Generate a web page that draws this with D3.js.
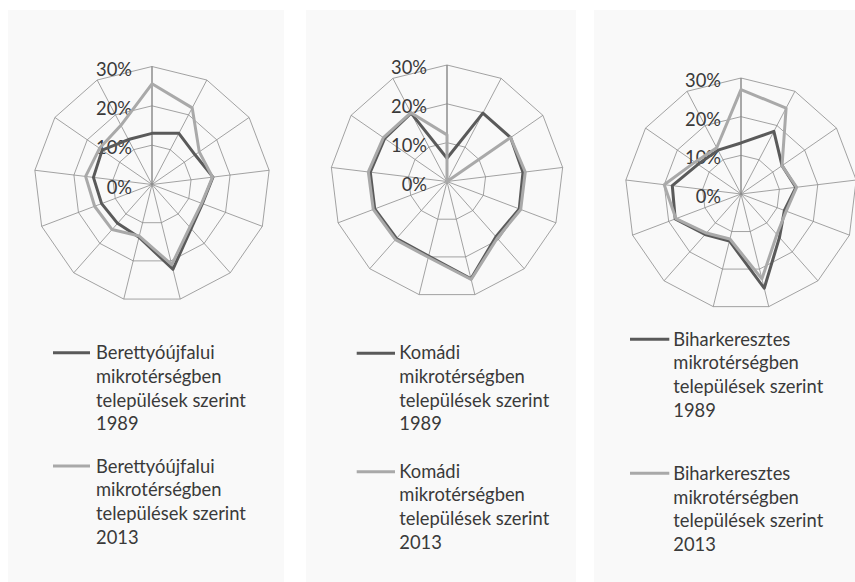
<!DOCTYPE html>
<html>
<head>
<meta charset="utf-8">
<script src="https://cdn.jsdelivr.net/npm/d3@7"></script>
<style>
  html, body { margin: 0; padding: 0; background: #ffffff; }
  svg { display: block; }
</style>
</head>
<body>
<svg id="chart" width="855" height="582"></svg>
<script>
// ---- data ----
const categories = ["1","2","3","4","5","6","7","8","9","10","11","12","13"];
const tickValues = [0, 10, 20, 30];
const tickLabels = ["0%", "10%", "20%", "30%"];

const berettyo1989 = [13.0, 14.7, 13.3, 15.6, 13.7, 15.0, 22.2, 13.8, 13.2, 13.7, 15.0, 15.4, 12.9];
const berettyo2013 = [25.6, 22.0, 14.6, 15.5, 13.5, 14.5, 21.0, 13.5, 15.3, 15.6, 17.0, 16.2, 17.0];

const komadi1989 = [6.0, 19.9, 19.9, 19.7, 19.9, 19.0, 25.8, 19.8, 19.6, 19.9, 19.9, 19.5, 19.9];
const komadi2013 = [12.0, 0.0, 19.9, 20.3, 20.3, 19.5, 26.0, 20.1, 20.0, 20.3, 20.4, 19.9, 20.0];

const bihar1989 = [13.2, 18.3, 12.9, 14.3, 12.0, 15.0, 25.1, 12.5, 14.0, 18.2, 17.9, 13.5, 12.8];
const bihar2013 = [27.0, 25.1, 12.9, 14.5, 12.5, 14.0, 22.6, 12.0, 13.5, 18.0, 20.0, 14.5, 13.5];

const legend1 = [["Berettyóújfalui", "mikrotérségben", "települések szerint", "1989"],
                 ["Berettyóújfalui", "mikrotérségben", "települések szerint", "2013"]];
const legend2 = [["Komádi", "mikrotérségben", "települések szerint", "1989"],
                 ["Komádi", "mikrotérségben", "települések szerint", "2013"]];
const legend3 = [["Biharkeresztes", "mikrotérségben", "települések szerint", "1989"],
                 ["Biharkeresztes", "mikrotérségben", "települések szerint", "2013"]];

// ---- styling / layout ----
const FONT = "Lato, 'Open Sans', sans-serif";
const DARK = "#5a5a5a", LIGHT = "#a9a9a9", GRID = "#8c8c8c", TEXT = "#3a3a3a";

const svg = d3.select("#chart");

function fitSize(txt, target) {
  const t = svg.append("text").attr("font-family", FONT).attr("font-size", 100).text(txt);
  const w = t.node().getComputedTextLength();
  t.remove();
  return 100 * target / w;
}
const legendSize = fitSize("települések szerint", 150);
const tickSize = legendSize;

const panels = [
  { x: 8, w: 276, cx: 152, cy: 184.5, R: 118, s: [berettyo1989, berettyo2013], legend: legend1,
    lx0: 53, lx1: 90, tx: 96, lineY: [352.7, 466], base: [359.3, 472.7] },
  { x: 306, w: 270, cx: 447, cy: 181.5, R: 116.5, s: [komadi1989, komadi2013], legend: legend2,
    lx0: 356.7, lx1: 395, tx: 399.3, lineY: [353.3, 471.7], base: [359.3, 477.7] },
  { x: 594, w: 261, cx: 741, cy: 194, R: 116, s: [bihar1989, bihar2013], legend: legend3,
    lx0: 630, lx1: 669.3, tx: 673.3, lineY: [339.3, 473.3], base: [345.7, 480] }
];

const angle = d3.scalePoint().domain(categories.concat(["_end"])).range([0, 2 * Math.PI]);

panels.forEach(p => {
  svg.append("rect").attr("x", p.x).attr("y", 10).attr("width", p.w).attr("height", 572)
    .attr("fill", "#f9f9f9");

  const r = d3.scaleLinear().domain([0, 30]).range([0, p.R]);
  const g = svg.append("g").attr("transform", `translate(${p.cx},${p.cy})`);

  // rings
  const ringLine = d3.lineRadial().angle(d => angle(d.c)).radius(d => r(d.v)).curve(d3.curveLinearClosed);
  tickValues.filter(v => v > 0).forEach(v => {
    g.append("path").attr("d", ringLine(categories.map(c => ({ c, v }))))
      .attr("fill", "none").attr("stroke", GRID).attr("stroke-width", 0.8);
  });
  // spokes
  categories.forEach((c, i) => {
    const a = angle(c);
    g.append("line").attr("x1", 0).attr("y1", 0)
      .attr("x2", Math.sin(a) * r(30)).attr("y2", -Math.cos(a) * r(30))
      .attr("stroke", i === 0 ? "#868686" : GRID).attr("stroke-width", i === 0 ? 1.4 : 0.8);
  });
  // tick labels
  tickValues.forEach((v, i) => {
    g.append("text").attr("x", -20).attr("y", -r(v) + 2)
      .attr("text-anchor", "end").attr("dominant-baseline", "central")
      .attr("font-family", FONT).attr("font-size", tickSize).attr("fill", TEXT)
      .text(tickLabels[i]);
  });
  // series
  const sLine = d3.lineRadial().angle((d, i) => angle(categories[i])).radius(d => r(d)).curve(d3.curveLinearClosed);
  [DARK, LIGHT].forEach((col, k) => {
    g.append("path").attr("d", sLine(p.s[k])).attr("fill", "none")
      .attr("stroke", col).attr("stroke-width", 3).attr("stroke-linejoin", "round");
  });
  // legend
  [DARK, LIGHT].forEach((col, k) => {
    svg.append("line").attr("x1", p.lx0).attr("x2", p.lx1)
      .attr("y1", p.lineY[k]).attr("y2", p.lineY[k])
      .attr("stroke", col).attr("stroke-width", 3);
    p.legend[k].forEach((t, j) => {
      svg.append("text").attr("x", p.tx).attr("y", p.base[k] + j * 23.6)
        .attr("font-family", FONT).attr("font-size", legendSize).attr("fill", TEXT)
        .text(t);
    });
  });
});
</script>
</body>
</html>
